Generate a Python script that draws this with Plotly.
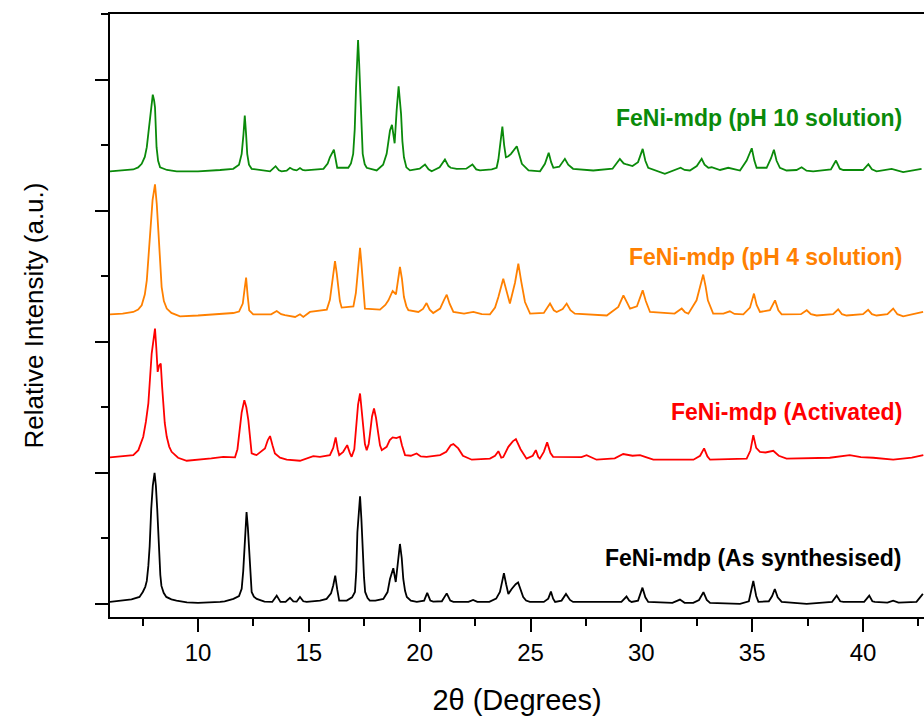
import plotly.graph_objects as go

# ---------------- data ----------------
names = ["FeNi-mdp (As synthesised)", "FeNi-mdp (Activated)",
         "FeNi-mdp (pH 4 solution)", "FeNi-mdp (pH 10 solution)"]
colors = ["#000000", "#FF0000", "#FF8000", "#0A8A0A"]
offsets = [0, 1100, 2200, 3300]

black_pts = [
    (6.03, 15), (6.5, 22), (7.0, 35), (7.36, 53), (7.51, 91), (7.62, 130), (7.69, 175), (7.76, 290),
    (7.82, 442), (7.89, 724), (7.96, 900), (8.04, 1000), (8.10, 900), (8.16, 724), (8.24, 366),
    (8.30, 220), (8.35, 137), (8.45, 85), (8.57, 53), (8.8, 35), (9.03, 25), (9.5, 12), (10.0, 8),
    (10.5, 10), (11.0, 15), (11.2, 20), (11.6, 38), (11.85, 60), (11.97, 115), (12.04, 250),
    (12.09, 444), (12.19, 700), (12.25, 580), (12.30, 419), (12.36, 200), (12.42, 91), (12.52, 55),
    (12.65, 38), (13.0, 18), (13.35, 15), (13.55, 63), (13.72, 15), (13.95, 15), (14.15, 46),
    (14.30, 20), (14.45, 17), (14.6, 53), (14.75, 20), (14.9, 15), (15.5, 25), (15.8, 38), (16.0, 80),
    (16.1, 140), (16.19, 216), (16.28, 110), (16.37, 25), (16.71, 25), (16.95, 50), (17.08, 91),
    (17.14, 250), (17.19, 547), (17.31, 820), (17.37, 650), (17.43, 396), (17.49, 200), (17.54, 91),
    (17.65, 45), (17.75, 25), (18.0, 25), (18.36, 38), (18.55, 90), (18.66, 190), (18.81, 272),
    (18.92, 167), (19.02, 320), (19.11, 457), (19.19, 350), (19.26, 190), (19.34, 100), (19.42, 53),
    (19.6, 25), (19.87, 15), (20.2, 25), (20.34, 84), (20.48, 25), (20.61, 17), (21.0, 20),
    (21.22, 80), (21.38, 25), (21.52, 15), (22.2, 15), (22.41, 30), (22.6, 15), (23.14, 15),
    (23.45, 40), (23.62, 91), (23.72, 170), (23.80, 234), (23.9, 150), (24.0, 76), (24.15, 114),
    (24.33, 150), (24.44, 163), (24.55, 110), (24.67, 53), (24.8, 25), (24.97, 15), (25.6, 15),
    (25.8, 40), (25.92, 94), (26.02, 40), (26.11, 15), (26.4, 25), (26.6, 76), (26.78, 30),
    (26.92, 15), (28.42, 15), (29.1, 15), (29.33, 56), (29.45, 25), (29.56, 15), (29.85, 25),
    (30.05, 124), (30.18, 50), (30.31, 15), (31.4, 8), (31.74, 33), (31.95, 8), (32.34, 8),
    (32.6, 30), (32.8, 89), (32.95, 30), (33.1, 8), (34.45, 0), (34.85, 20), (35.05, 175),
    (35.18, 60), (35.28, 15), (35.75, 20), (35.9, 60), (36.02, 114), (36.15, 50), (36.33, 15),
    (37.46, 0), (38.6, 15), (38.81, 63), (38.97, 20), (39.11, 15), (40.05, 15), (40.28, 63),
    (40.42, 20), (40.53, 15), (41.1, 10), (41.36, 25), (41.6, 10), (42.41, 15), (42.7, 76),
]

red_pts = [
    (6.03, 18), (6.6, 25), (7.08, 35), (7.31, 73), (7.53, 175), (7.65, 290), (7.76, 429), (7.91, 810),
    (8.06, 1000), (8.12, 850), (8.18, 670), (8.25, 720), (8.32, 734), (8.38, 560), (8.43, 403),
    (8.50, 280), (8.59, 175), (8.70, 100), (8.81, 60), (9.1, 15), (9.49, -8), (10.09, 0), (10.6, 10),
    (11.14, 22), (11.67, 18), (11.78, 80), (11.86, 200), (11.97, 360), (12.09, 454), (12.18, 400),
    (12.27, 302), (12.35, 130), (12.42, 48), (12.64, 35), (13.02, 86), (13.15, 150), (13.25, 180),
    (13.36, 110), (13.47, 48), (13.7, 15), (14.0, 0), (14.6, -8), (15.2, 27), (15.5, 22),
    (15.95, 35), (16.1, 90), (16.21, 170), (16.3, 80), (16.37, 35), (16.55, 60), (16.73, 111),
    (16.85, 50), (16.93, 22), (17.05, 80), (17.13, 225), (17.22, 420), (17.31, 505), (17.39, 380),
    (17.46, 225), (17.53, 120), (17.61, 73), (17.70, 120), (17.76, 200), (17.85, 330), (17.94, 391),
    (18.03, 320), (18.13, 200), (18.21, 110), (18.29, 73), (18.51, 98), (18.65, 150), (18.78, 170),
    (18.95, 165), (19.11, 175), (19.2, 110), (19.34, 35), (19.6, 30), (19.86, 48), (20.05, 25),
    (20.31, 22), (20.92, 35), (21.2, 60), (21.4, 110), (21.52, 119), (21.74, 86), (21.95, 30),
    (22.35, 0), (23.17, 8), (23.4, 30), (23.55, 65), (23.68, 15), (23.77, 20), (24.0, 98),
    (24.2, 140), (24.34, 157), (24.55, 80), (24.82, 8), (25.1, 30), (25.24, 73), (25.35, 20),
    (25.42, 8), (25.6, 60), (25.75, 132), (25.9, 50), (26.02, 22), (27.3, 20), (27.53, 35),
    (27.75, 15), (27.98, 0), (28.8, 10), (29.18, 43), (29.6, 30), (29.94, 35), (30.2, 20),
    (30.54, 0), (32.35, 0), (32.65, 30), (32.83, 86), (32.98, 25), (33.1, 0), (34.75, 8),
    (34.92, 70), (35.05, 187), (35.18, 90), (35.35, 60), (35.6, 55), (35.95, 68), (36.2, 30),
    (36.55, 8), (38.5, 15), (39.4, 35), (39.9, 20), (40.46, 15), (41.36, 0), (42.2, 15), (42.72, 35),
]

orange_pts = [
    (6.03, 9), (6.6, 15), (7.08, 27), (7.30, 45), (7.46, 78), (7.60, 160), (7.69, 268), (7.76, 420),
    (7.83, 598), (7.95, 880), (8.06, 1000), (8.14, 850), (8.21, 649), (8.29, 400), (8.36, 217),
    (8.46, 110), (8.59, 53), (8.8, 20), (9.19, -6), (10.0, 0), (10.8, 8), (11.59, 19), (11.85, 30),
    (12.02, 91), (12.10, 200), (12.17, 289), (12.24, 150), (12.31, 40), (12.49, 9), (13.3, 9),
    (13.55, 34), (13.75, 10), (13.92, 2), (14.2, -5), (14.38, -11), (14.6, 9), (14.75, -11),
    (15.05, 27), (15.5, 35), (15.81, 45), (15.95, 120), (16.03, 217), (16.1, 330), (16.18, 415),
    (16.26, 320), (16.33, 192), (16.40, 110), (16.48, 60), (17.01, 70), (17.12, 170), (17.19, 293),
    (17.31, 517), (17.37, 400), (17.43, 243), (17.48, 120), (17.53, 53), (18.21, 45), (18.45, 80),
    (18.59, 116), (18.78, 187), (18.93, 162), (19.02, 280), (19.11, 370), (19.2, 280), (19.29, 141),
    (19.4, 70), (19.49, 40), (19.94, 27), (20.15, 50), (20.31, 95), (20.45, 45), (20.61, 19),
    (20.92, 53), (21.1, 120), (21.22, 159), (21.35, 90), (21.52, 27), (22.0, 15), (22.42, 27),
    (22.8, 10), (23.17, 9), (23.4, 60), (23.55, 141), (23.77, 281), (23.9, 190), (24.07, 91),
    (24.3, 250), (24.45, 395), (24.58, 260), (24.75, 103), (24.98, 14), (25.6, 20), (25.88, 91),
    (26.05, 40), (26.18, 27), (26.45, 50), (26.63, 91), (26.8, 40), (27.0, 14), (28.44, 0),
    (28.96, 65), (29.19, 154), (29.35, 100), (29.49, 53), (29.8, 70), (30.06, 192), (30.2, 110),
    (30.39, 27), (31.5, 15), (31.82, 53), (31.97, 25), (32.12, 14), (32.49, 116), (32.65, 220),
    (32.79, 312), (32.9, 220), (33.0, 116), (33.24, 14), (33.7, 15), (33.99, 32), (34.2, 12),
    (34.6, 9), (34.9, 60), (35.08, 167), (35.2, 80), (35.35, 27), (35.8, 40), (36.03, 116),
    (36.18, 40), (36.33, 9), (37.2, 10), (37.46, 40), (37.65, 10), (37.91, 0), (38.65, 10),
    (38.88, 47), (39.05, 10), (39.26, 0), (40.0, 10), (40.23, 43), (40.4, 10), (40.61, 0),
    (41.1, 10), (41.36, 53), (41.55, 10), (41.81, -6), (42.71, 27),
]

green_pts = [
    (6.03, 0), (6.6, 5), (7.08, 14), (7.30, 30), (7.46, 57), (7.60, 110), (7.69, 184), (7.76, 290),
    (7.83, 412), (7.90, 530), (7.96, 585), (8.02, 540), (8.06, 488), (8.13, 184), (8.20, 80),
    (8.29, 31), (8.6, 10), (9.04, 0), (10.0, 0), (11.0, 10), (11.59, 19), (11.85, 50), (11.97, 133),
    (12.05, 280), (12.11, 425), (12.17, 280), (12.22, 133), (12.30, 50), (12.42, 19), (13.25, 0),
    (13.5, 39), (13.65, 8), (13.77, 0), (14.0, 5), (14.15, 27), (14.3, 12), (14.45, 7), (14.6, 25),
    (14.72, 10), (14.83, 7), (15.66, 19), (15.85, 60), (15.95, 107), (16.13, 166), (16.22, 70),
    (16.28, 27), (16.78, 27), (16.9, 60), (17.0, 133), (17.07, 320), (17.13, 641), (17.22, 1002),
    (17.27, 820), (17.31, 641), (17.37, 300), (17.43, 133), (17.52, 55), (17.61, 27), (18.06, 7),
    (18.35, 50), (18.51, 133), (18.66, 311), (18.75, 354), (18.87, 214), (18.96, 463), (19.05, 649),
    (19.16, 438), (19.22, 230), (19.29, 107), (19.40, 30), (19.56, 7), (20.0, 20), (20.24, 52),
    (20.4, 15), (20.54, 0), (20.9, 30), (21.14, 90), (21.3, 40), (21.4, 27), (21.67, 19), (22.1, 20),
    (22.38, 52), (22.55, 15), (22.72, 7), (23.25, 15), (23.47, 27), (23.55, 90), (23.62, 184),
    (23.73, 341), (23.81, 200), (23.89, 107), (24.0, 115), (24.12, 133), (24.38, 191), (24.5, 120),
    (24.61, 57), (24.91, 7), (25.43, 0), (25.65, 57), (25.82, 142), (25.93, 70), (26.03, 27),
    (26.3, 35), (26.55, 95), (26.7, 50), (26.92, 19), (27.83, 6), (28.7, 20), (29.03, 95),
    (29.2, 60), (29.34, 52), (29.6, 40), (29.85, 70), (30.06, 171), (30.18, 80), (30.31, 27),
    (31.06, -19), (31.5, 10), (31.77, 27), (31.95, 10), (32.19, 6), (32.5, 40), (32.72, 95),
    (32.85, 50), (33.02, 27), (33.17, 31), (33.55, 10), (33.92, 27), (34.45, 6), (34.75, 82),
    (34.98, 176), (35.1, 80), (35.2, 27), (35.65, 27), (35.85, 100), (35.98, 164), (36.1, 80),
    (36.25, 27), (36.55, 6), (37.0, 10), (37.23, 31), (37.45, 5), (37.75, 0), (38.55, 15),
    (38.78, 82), (38.95, 20), (39.11, 10), (40.0, 10), (40.24, 54), (40.4, 15), (40.61, 0),
    (41.29, 19), (41.81, -6), (42.64, 19),
]

series = [black_pts, red_pts, orange_pts, green_pts]

# label anchor positions (paper coordinates)
label_y = [0.098, 0.340, 0.597, 0.8275]

FONT = "Arial, 'Liberation Sans', sans-serif"

fig = go.Figure()
for pts, off, col, nm in zip(series, offsets, colors, names):
    xs = [p[0] for p in pts]
    ys = [p[1] + off for p in pts]
    fig.add_trace(go.Scatter(x=xs, y=ys, mode="lines",
                             line=dict(color=col, width=1.8), name=nm,
                             showlegend=False))

for nm, col, ly in zip(names, colors, label_y):
    fig.add_annotation(text="<b>" + nm + "</b>", xref="paper", yref="paper",
                       x=0.976, y=ly, xanchor="right", yanchor="middle",
                       showarrow=False, font=dict(family=FONT, size=23, color=col))

fig.update_layout(
    width=924, height=722,
    margin=dict(l=110, r=0, t=14, b=105),
    paper_bgcolor="white", plot_bgcolor="white",
    font=dict(family=FONT, color="black"),
)
fig.update_xaxes(
    range=[6.03, 42.75], tick0=0, dtick=5,
    showline=True, linecolor="black", linewidth=2, mirror=True,
    ticks="outside", ticklen=13, tickwidth=2, tickcolor="black",
    minor=dict(ticks="outside", ticklen=7, tickwidth=2, tickcolor="black", dtick=2.5),
    showgrid=False, zeroline=False,
    tickfont=dict(size=24, family=FONT),
    title=dict(text="2θ (Degrees)", font=dict(size=29, family=FONT), standoff=25),
)
fig.update_yaxes(
    range=[-100, 4500], tick0=0, dtick=1000,
    showline=True, linecolor="black", linewidth=2,
    ticks="outside", ticklen=13, tickwidth=2, tickcolor="black",
    minor=dict(ticks="outside", ticklen=7, tickwidth=2, tickcolor="black", dtick=500),
    showticklabels=False, showgrid=False, zeroline=False,
    title=dict(text="Relative Intensity (a.u.)", font=dict(size=26, family=FONT), standoff=44),
)

fig.write_html("out.html")
